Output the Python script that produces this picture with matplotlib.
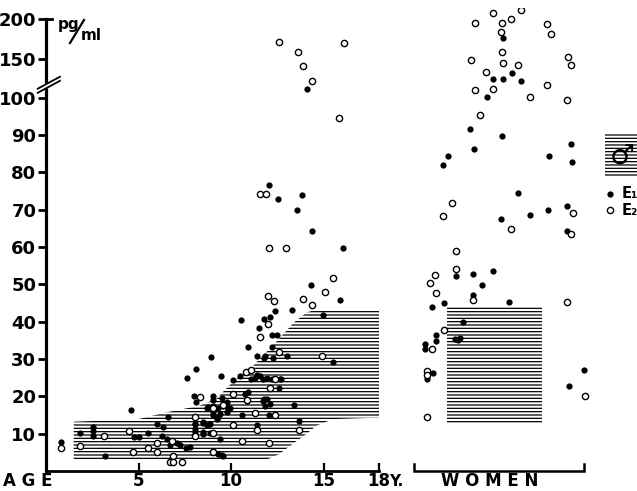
import numpy as np
import matplotlib
matplotlib.use('Agg')
import matplotlib.pyplot as plt
from matplotlib.patches import Rectangle

plt.rcParams['font.family'] = ['DejaVu Sans']
plt.rcParams['font.weight'] = 'bold'
plt.rcParams['hatch.color'] = 'black'
plt.rcParams['hatch.linewidth'] = 0.9

# ---------- DATA (pg/ml) ----------
# children: age in years, value
kid_filled_age = [0.81, 1.84, 2.56, 2.56, 2.56, 3.19, 4.6, 4.77, 5.53, 5.98, 6.34, 6.25, 6.61, 6.52,
                  6.7, 7.06, 7.24, 7.57, 7.6, 8.1, 8.0, 8.1, 8.05, 8.05, 8.5, 8.5, 8.68, 8.77, 8.92,
                  9.05, 9.0, 9.05, 9.3, 9.3, 9.4, 9.44, 9.5, 9.5, 9.77, 9.95, 10.1, 10.5, 10.56, 10.6,
                  10.9, 10.94, 11.1, 11.4, 11.4, 11.53, 11.8, 11.75, 11.84, 11.8, 11.84, 12.1, 12.07,
                  12.2, 12.2, 12.25, 12.4, 12.5, 12.6, 12.7, 13.0, 13.3, 13.4, 13.7, 14.3, 14.95,
                  15.5, 15.9, 16.04, 12.07, 12.56, 13.86, 13.55, 14.38, 14.09,
                  11.42, 11.8, 11.3, 11.57, 11.93, 12.2, 12.65, 10.76, 10.85, 11.75, 11.93, 12.1,
                  8.68, 9.05, 9.58, 9.85, 9.05, 9.4, 9.77, 8.5, 8.86, 9.23, 8.05, 8.05, 8.05, 8.5,
                  8.86, 9.05, 9.3, 9.58, 5.0, 7.8]
kid_filled_val = [7.9, 10.1, 11.7, 10.8, 9.5, 4.1, 16.4, 9.1, 10.1, 12.6, 11.7, 9.5, 14.6, 8.6,
                  6.9, 7.5, 7.0, 6.1, 25.0, 27.2, 20.1, 18.6, 12.7, 10.4, 12.9, 10.0, 12.3, 17.1, 30.5,
                  20.1, 19.1, 15.0, 14.5, 16.8, 8.6, 25.4, 19.6, 4.3, 18.6, 16.8, 24.4, 25.5, 40.4, 15.0,
                  33.1, 21.3, 24.7, 12.4, 25.6, 38.2, 40.7, 24.7, 30.9, 19.3, 17.4, 41.3, 15.0,
                  33.1, 36.4, 30.2, 42.8, 36.4, 22.2, 24.7, 30.7, 43.1, 17.8, 13.3, 49.9, 41.8,
                  29.2, 45.8, 59.8, 76.6, 72.9, 73.9, 70.0, 64.3, 111,
                  30.8, 30.4, 25.0, 25.5, 24.8, 24.6, 24.6, 20.6, 18.8, 18.8, 19.3, 17.9,
                  17.0, 17.5, 17.5, 17.0, 15.7, 15.2, 15.7, 13.0, 12.6, 13.9, 12.6, 11.2, 9.4, 10.5,
                  10.2, 5.4, 4.5, 4.1, 9.0, 6.5]

kid_open_age = [0.81, 1.84, 3.15, 4.49, 4.72, 5.53, 5.98, 5.98, 6.79, 6.88, 6.7, 6.88, 7.33, 8.3,
                8.05, 8.05, 9.05, 9.05, 9.0, 9.58, 10.13, 10.1, 10.58, 10.8, 10.85, 11.1, 11.3, 11.4,
                11.57, 11.98, 12.0, 12.07, 12.07, 12.1, 12.3, 12.4, 12.4, 12.6, 12.97, 13.7, 13.9,
                14.4, 14.9, 15.1, 15.5, 11.57, 11.89, 15.84, 12.61, 16.1, 13.6, 13.87, 14.38]
kid_open_val = [6.2, 6.8, 9.5, 10.8, 5.2, 6.1, 7.5, 5.0, 8.1, 4.1, 2.3, 2.3, 2.3, 19.7,
                14.5, 9.5, 16.8, 10.1, 5.2, 17.7, 20.5, 12.2, 8.1, 26.6, 19.0, 27.0, 15.5, 11.1,
                35.8, 46.8, 39.5, 59.8, 7.4, 22.2, 45.5, 24.7, 15.0, 31.8, 59.8, 11.1, 46.0,
                44.6, 30.8, 47.9, 51.7, 74.2, 74.2, 94.6, 171, 170, 158, 140, 121.6]

# women: horizontal position is only a spread within the group
women_filled_x = [24.7, 24.18, 24.69, 25.17, 25.66, 23.82, 22.92, 24.63, 23.15, 21.75, 21.48, 27.19,
                  28.36, 28.45, 25.5, 27.15, 28.15, 24.58, 26.16, 28.15, 22.16, 23.1, 24.15, 23.58,
                  23.1, 21.51, 20.88, 25.04, 22.52, 21.06, 21.06, 20.49, 20.49, 22.1, 22.4, 22.25,
                  29.1, 28.29, 20.58, 20.94]
women_filled_val = [176, 124, 124, 131, 121, 100.4, 91.6, 89.8, 86.3, 84.3, 82.1, 84.5,
                    87.6, 82.8, 74.5, 70.0, 70.9, 67.6, 68.7, 64.2, 52.2, 52.9, 53.6, 49.9,
                    47.1, 44.9, 44.0, 45.3, 39.9, 36.4, 34.8, 34.0, 32.6, 35.3, 35.6, 35.0,
                    27.1, 22.8, 24.6, 26.2]
women_open_x = [24.15, 25.68, 25.14, 23.19, 24.66, 27.06, 27.28, 24.6, 24.66, 22.96, 24.7, 25.5,
                28.2, 28.38, 23.78, 23.19, 24.18, 26.16, 27.06, 28.15, 23.46, 21.93, 21.48, 28.5,
                25.14, 28.38, 22.16, 22.16, 21.03, 20.76, 21.08, 23.1, 28.18, 21.53, 20.88, 20.58,
                20.58, 29.14, 20.58]
women_open_val = [208, 212, 201, 195, 195, 194, 181, 184, 159, 148.5, 144, 142,
                  152, 142, 133, 110, 111, 101, 116, 99.5, 95.5, 71.7, 68.4, 69.2,
                  64.9, 63.6, 58.9, 54.2, 52.4, 50.3, 47.6, 45.7, 45.3, 37.7, 32.8, 26.8,
                  25.8, 20.0, 14.4]

# shaded normal ranges
band_age = [1.5, 3, 5, 6.5, 8.3, 9.2, 9.9, 10.5, 11.2, 11.9, 12.6, 13.4, 14.1, 14.6, 15.5, 18]
band_top = [13.2, 13.5, 13.9, 15.7, 17.5, 19.3, 22.9, 25.5, 28.2, 31.8, 35.4, 39.8, 42.5, 43.2, 43.2, 43.0]
band_bot = [3.2, 3.2, 3.2, 3.2, 3.2, 3.0, 3.0, 3.0, 3.0, 3.0, 4.5, 7.5, 10.0, 12.1, 13.9, 14.3]
women_band_x = [21.7, 26.8]
women_band_y = [12.6, 44.0]

y_ticks = [10, 20, 30, 40, 50, 60, 70, 80, 90, 100, 150, 200]
x_ticks = [5, 10, 15, 18]


# ---------- broken y scale: compressed above 100 ----------
def fwd(y):
    y = np.asarray(y, dtype=float)
    return np.where(y <= 100, y, 100 + (y - 100) * 0.21)


def inv(p):
    p = np.asarray(p, dtype=float)
    return np.where(p <= 100, p, 100 + (p - 100) / 0.21)


fig = plt.figure(figsize=(6.37, 4.91), dpi=100)
ax = fig.add_axes([46 / 637, 20 / 491, 591 / 637, 462.8 / 491])
ax.set_yscale('function', functions=(fwd, inv))
ax.set_xlim(0, 591 / 18.5)
ax.set_ylim(0, inv(124.0))

# bands
ax.fill_between(band_age, band_bot, band_top, facecolor='none', edgecolor='black',
                linewidth=0, hatch='-----', zorder=1)
ax.fill_between(women_band_x, women_band_y[0], women_band_y[1], facecolor='none',
                edgecolor='black', linewidth=0, hatch='-----', zorder=1)

# points
ms = 4.5
ax.plot(kid_filled_age, kid_filled_val, 'o', color='black', ms=ms, mew=0, zorder=4)
ax.plot(kid_open_age, kid_open_val, 'o', mfc='white', mec='black', ms=ms, mew=1.0, zorder=4)
ax.plot(women_filled_x, women_filled_val, 'o', color='black', ms=ms, mew=0, zorder=4)
ax.plot(women_open_x, women_open_val, 'o', mfc='white', mec='black', ms=ms, mew=1.0, zorder=4)

# axes styling
for s in ['top', 'right']:
    ax.spines[s].set_visible(False)
ax.spines['left'].set_linewidth(2.3)
ax.spines['bottom'].set_linewidth(2.0)
ax.spines['left'].set_bounds(0, 200)
ax.spines['bottom'].set_bounds(0, 18)

ax.set_yticks(y_ticks)
ax.set_yticklabels([str(t) for t in y_ticks])
ax.yaxis.set_minor_locator(matplotlib.ticker.NullLocator())
ax.tick_params(axis='y', direction='out', length=6, width=2.0, pad=1, labelsize=13)
ax.set_xticks(x_ticks)
ax.set_xticklabels([str(t) for t in x_ticks])
ax.tick_params(axis='x', direction='in', length=6, width=1.6, pad=1, labelsize=12)
for lab in ax.get_xticklabels() + ax.get_yticklabels():
    lab.set_fontweight('bold')

# top tick of y axis turns right
ax.plot([0, 0.35], [200, 200], color='black', lw=2.0, clip_on=False, zorder=5)

# axis break marks
bx = [-0.45, 0.75]
ax.fill([bx[0], bx[1], bx[1], bx[0]], [106.3, 121.6, 126.8, 111.5], color='white',
        clip_on=False, zorder=5)
ax.plot(bx, [106.3, 121.6], color='black', lw=1.3, clip_on=False, zorder=6)
ax.plot(bx, [111.5, 126.8], color='black', lw=1.3, clip_on=False, zorder=6)

# women bracket
wx0, wx1 = 19.9, 29.1
ax.plot([wx0, wx0, wx1, wx1], [1.9, 0, 0, 1.9], color='black', lw=1.8,
        clip_on=False, solid_joinstyle='miter')

# unit label
fig.text(58 / 637, 1 - 24 / 491, 'pg', fontsize=11, fontweight='bold', va='center', ha='left')
fig.text(81 / 637, 1 - 36 / 491, 'ml', fontsize=11, fontweight='bold', va='center', ha='left')
fig.add_artist(plt.Line2D([70 / 637, 84 / 637], [1 - 43 / 491, 1 - 20 / 491],
                          transform=fig.transFigure, color='black', lw=1.6))

# axis words
fig.text(3 / 637, 1 - 481 / 491, 'A G E', fontsize=12, fontweight='bold', va='center', ha='left')
fig.text(389 / 637, 1 - 481 / 491, 'Y.', fontsize=11, fontweight='bold', va='center', ha='left')
fig.text(490 / 637, 1 - 481 / 491, 'W O M E N', fontsize=12, fontweight='bold',
         va='center', ha='center')

# legend, cut at right edge as in the source
lx = (605 - 46) / 18.5
ax.add_patch(Rectangle((lx, 78.9), 3.0, 11.7, facecolor='none', edgecolor='black',
                       linewidth=0, hatch='-----', clip_on=False, zorder=1))
ax.text(lx + 0.95, 84.5, '\u2642', fontsize=20, fontweight='bold', ha='center', va='center',
        clip_on=False, zorder=6)
ax.plot([(610 - 46) / 18.5], [74.3], 'o', color='black', ms=ms, mew=0, clip_on=False)
ax.plot([(610 - 46) / 18.5], [69.8], 'o', mfc='white', mec='black', ms=ms, mew=1.0, clip_on=False)
ax.text((622 - 46) / 18.5, 74.3, 'E\u2081', fontsize=10.5, fontweight='bold', va='center',
        ha='left', clip_on=False)
ax.text((622 - 46) / 18.5, 69.8, 'E\u2082', fontsize=10.5, fontweight='bold', va='center',
        ha='left', clip_on=False)

fig.savefig('out.png', dpi=100)
